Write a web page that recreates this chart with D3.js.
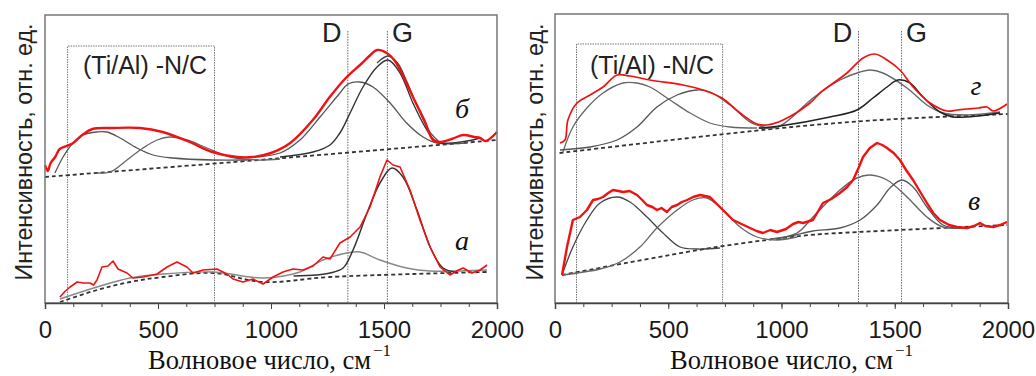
<!DOCTYPE html>
<html>
<head>
<meta charset="utf-8">
<script src="https://cdn.jsdelivr.net/npm/d3@7"></script>
<style>
  body { margin: 0; background: #fff; }
  svg { display: block; }
</style>
</head>
<body>
<svg id="chart" width="1036" height="376"></svg>
<script>
// wavenumber axis
const xMajor = [0, 500, 1000, 1500, 2000]
const xMinor = d3.range(0, 2001, 125)

// left panel, upper spectrum (б)
const bRed = [[0,138],[12,132],[25,140],[45,146],[65,154],[95,157],[125,160],[165,168],[210,174],[300,175],[420,175],[520,171],[640,161],[740,151],[850,146],[920,146],[1000,150],[1085,160],[1185,183],[1260,206],[1335,226],[1394,238],[1440,248],[1470,253],[1512,250],[1545,243],[1571,233],[1628,206],[1680,182],[1717,163],[1748,161],[1800,164],[1850,168],[1900,166],[1925,165],[1950,162],[2000,171]]
const bBase = [[0,126],[1000,144],[2000,163]]
const bPeak1 = [[44,130],[80,146],[124,160],[168,168],[230,171],[274,171],[332,165],[407,155],[478,148],[566,145],[743,143],[894,143]]
const bPeak2 = [[230,130],[288,131],[363,143],[434,155],[496,163],[553,166],[628,163],[717,155],[819,146],[938,143],[1040,144]]
const bD = [[850,145],[1040,150],[1128,163],[1217,186],[1305,210],[1341,219],[1394,221],[1451,216],[1527,200],[1600,180],[1673,166],[1735,160],[1867,160]]
const bG = [[1040,146],[1186,151],[1261,158],[1305,170],[1350,190],[1407,216],[1469,236],[1518,243],[1571,230],[1628,200],[1690,173],[1735,161],[1867,162],[1925,165]]
const bFit = [[1469,240],[1518,247],[1560,240],[1600,222],[1650,195],[1700,172],[1740,162]]

// left panel, lower spectrum (а)
const aRed = [[66,6],[90,12],[111,16],[142,21],[170,20],[199,20],[215,18],[230,23],[252,36],[279,37],[301,42],[323,34],[363,30],[389,25],[434,26],[496,29],[540,36],[584,41],[628,36],[655,30],[699,33],[761,34],[805,29],[832,24],[876,21],[920,24],[965,19],[1009,26],[1053,31],[1097,34],[1142,33],[1186,37],[1230,46],[1261,44],[1305,60],[1350,66],[1394,76],[1438,96],[1482,126],[1513,143],[1540,138],[1571,136],[1615,113],[1659,83],[1704,56],[1748,36],[1792,28],[1820,32],[1850,35],[1889,30],[1925,33],[1956,38]]
const aBase = [[66,1],[230,13],[376,21],[522,26],[743,30],[965,21],[1261,26],[1956,31]]
const aD = [[66,4],[230,16],[376,25],[522,29],[743,31],[965,25],[1128,31],[1230,43],[1336,50],[1394,51],[1482,43],[1600,35],[1704,32],[1956,33]]
const aG = [[1100,27],[1200,28],[1261,30],[1319,35],[1363,53],[1425,90],[1482,120],[1535,135],[1584,126],[1646,93],[1704,56],[1761,35],[1823,31]]

// right panel, upper spectrum (г)
const gRed = [[22,160],[44,163],[57,183],[97,200],[155,208],[212,216],[274,228],[331,227],[419,223],[565,218],[653,213],[737,205],[817,190],[892,179],[936,178],[1007,183],[1126,200],[1170,210],[1289,230],[1360,245],[1413,249],[1466,243],[1523,233],[1581,216],[1656,200],[1731,192],[1775,193],[1819,194],[1870,195],[1907,196],[1934,192],[1996,199]]
const gBase = [[20,150],[1000,175],[1435,183],[2000,189]]
const gPeak1 = [[35,151],[79,176],[141,195],[212,210],[300,220],[362,220],[419,216],[508,203],[596,190],[684,180],[773,176],[892,175]]
const gPeak2 = [[22,153],[155,156],[274,163],[362,176],[450,196],[539,208],[627,213],[684,211],[773,198],[861,181],[936,175]]
const gD = [[900,175],[993,177],[1139,205],[1258,223],[1347,231],[1391,233],[1448,230],[1554,215],[1642,198],[1713,190],[1819,188],[1965,191]]
const gG = [[900,175],[993,177],[1214,186],[1333,193],[1404,205],[1466,216],[1514,223],[1567,220],[1625,206],[1700,191],[1757,186],[1965,190]]

// right panel, lower spectrum (в)
const vRed = [[31,28],[53,56],[79,83],[110,86],[141,93],[168,103],[190,104],[212,106],[235,110],[256,113],[280,112],[300,111],[330,112],[362,108],[385,103],[406,98],[430,96],[450,93],[470,95],[494,91],[515,96],[539,98],[560,101],[583,103],[610,106],[640,108],[684,106],[728,96],[786,83],[861,75],[890,72],[918,70],[950,73],[980,71],[1020,74],[1051,79],[1075,81],[1095,80],[1139,83],[1183,100],[1220,104],[1258,110],[1290,116],[1316,123],[1340,135],[1360,146],[1390,155],[1422,160],[1445,158],[1466,155],[1495,150],[1523,143],[1550,133],[1581,123],[1610,112],[1642,100],[1670,90],[1700,83],[1740,78],[1775,76],[1819,75],[1850,77],[1876,80],[1900,77],[1934,76],[1965,78],[1996,81]]
const vBase = [[31,28],[715,56],[1126,68],[1258,70],[1996,78]]
const vPeak1 = [[31,28],[79,56],[141,83],[199,100],[274,106],[331,101],[406,86],[477,70],[552,56],[627,54],[728,55]]
const vPeak2 = [[31,28],[199,34],[287,41],[375,56],[450,75],[539,93],[609,103],[671,105],[742,93],[817,76],[892,66],[980,63],[1068,66]]
const vD = [[950,64],[1068,70],[1139,86],[1258,113],[1333,125],[1391,128],[1466,123],[1554,106],[1642,86],[1713,76],[1819,75]]
const vG = [[980,64],[1060,68],[1139,72],[1258,75],[1347,83],[1422,98],[1479,115],[1532,123],[1581,116],[1642,96],[1713,78],[1788,75]]

// D and G band positions, (Ti/Al)-N/C region
const dgLeft = [1340, 1515]
const dgRight = [1340, 1530]
const boxLeft = [100, 750]
const boxRight = [95, 740]

const RED = "#f01212"
const smooth = d3.curveCatmullRom.alpha(0.5)

const panels = [
  {
    left: 45, right: 497, top: 15, bottom: 303,
    dg: dgLeft, box: boxLeft, boxTop: 46, textX: 83, titleX: 148, yTitleX: 32,
    labels: [{ t: "б", x: 462, y: 118 }, { t: "а", x: 462, y: 250 }],
    series: [
      { d: bBase, c: "#333", w: 1.8, dash: "4,3" },
      { d: bPeak1, c: "#555", w: 1.3 },
      { d: bPeak2, c: "#666", w: 1.3 },
      { d: bD, c: "#555", w: 1.3 },
      { d: bG, c: "#333", w: 1.4 },
      { d: bFit, c: "#444", w: 1.3 },
      { d: bRed, c: RED, w: 2.4 },
      { d: aBase, c: "#333", w: 1.8, dash: "4,3" },
      { d: aD, c: "#888", w: 1.4 },
      { d: aG, c: "#333", w: 1.5 },
      { d: aRed, c: RED, w: 1.6, linear: true }
    ]
  },
  {
    left: 555, right: 1008, top: 14, bottom: 303,
    dg: dgRight, box: boxRight, boxTop: 44, textX: 590, titleX: 670, yTitleX: 543,
    labels: [{ t: "г", x: 976, y: 95 }, { t: "в", x: 974, y: 210 }],
    series: [
      { d: gBase, c: "#333", w: 1.8, dash: "4,3" },
      { d: gPeak1, c: "#666", w: 1.3 },
      { d: gPeak2, c: "#555", w: 1.3 },
      { d: gD, c: "#666", w: 1.4 },
      { d: gG, c: "#222", w: 1.5 },
      { d: gRed, c: RED, w: 1.7 },
      { d: vBase, c: "#333", w: 1.8, dash: "4,3" },
      { d: vPeak1, c: "#444", w: 1.3 },
      { d: vPeak2, c: "#666", w: 1.3 },
      { d: vD, c: "#666", w: 1.4 },
      { d: vG, c: "#555", w: 1.3 },
      { d: vRed, c: RED, w: 2.4, linear: true }
    ]
  }
]

const svg = d3.select("#chart")

function drawPanel(p) {
  const x = d3.scaleLinear().domain([0, 2000]).range([p.left, p.right])
  const y = d3.scaleLinear().domain([0, 288]).range([303, 15])
  const g = svg.append("g")

  // (Ti/Al)-N/C box
  g.append("path")
    .attr("d", `M${x(p.box[0])},${p.bottom}V${p.boxTop}H${x(p.box[1])}V${p.bottom}`)
    .attr("fill", "none")
    .attr("stroke", "#777")
    .attr("stroke-width", 1)
    .attr("stroke-dasharray", "1.5,1")

  g.append("text")
    .attr("x", p.textX)
    .attr("y", 74)
    .attr("font-family", "Liberation Sans, Arial, sans-serif")
    .attr("font-size", 25)
    .attr("fill", "#222")
    .text("(Ti/Al) -N/C")

  // D and G lines
  g.selectAll(".dg")
    .data(p.dg)
    .join("line")
    .attr("x1", (d) => x(d))
    .attr("x2", (d) => x(d))
    .attr("y1", 31)
    .attr("y2", p.bottom)
    .attr("stroke", "#666")
    .attr("stroke-width", 1)
    .attr("stroke-dasharray", "1.5,1.2")

  g.selectAll(".dglabel")
    .data(["D", "G"])
    .join("text")
    .attr("x", (d, i) => x(p.dg[i]) + (i === 0 ? -16 : 15))
    .attr("y", 42)
    .attr("text-anchor", "middle")
    .attr("font-family", "Liberation Sans, Arial, sans-serif")
    .attr("font-size", 27)
    .attr("fill", "#222")
    .text((d) => d)

  // spectra and fit components
  p.series.forEach((s) => {
    const line = d3.line()
      .x((d) => x(d[0]))
      .y((d) => y(d[1]))
      .curve(s.linear ? d3.curveLinear : smooth)
    g.append("path")
      .datum(s.d)
      .attr("d", line)
      .attr("fill", "none")
      .attr("stroke", s.c)
      .attr("stroke-width", s.w)
      .attr("stroke-linejoin", "round")
      .attr("stroke-dasharray", s.dash || null)
  })

  // frame
  g.append("rect")
    .attr("x", p.left)
    .attr("y", p.top)
    .attr("width", p.right - p.left)
    .attr("height", p.bottom - p.top)
    .attr("fill", "none")
    .attr("stroke", "#777")
    .attr("stroke-width", 1.5)

  // axis
  const minor = g.append("g")
    .attr("transform", `translate(0,${p.bottom})`)
    .call(d3.axisBottom(x).tickValues(xMinor).tickSize(4).tickFormat(""))
  minor.select(".domain").remove()
  minor.selectAll("line").attr("stroke", "#444")

  const axis = g.append("g")
    .attr("transform", `translate(0,${p.bottom})`)
    .call(d3.axisBottom(x).tickValues(xMajor).tickSize(6).tickPadding(12).tickFormat(d3.format("d")))
  axis.select(".domain").attr("stroke", "#444").attr("stroke-width", 1.5)
  axis.selectAll("line").attr("stroke", "#444")
  axis.selectAll("text")
    .attr("font-family", "Liberation Sans, Arial, sans-serif")
    .attr("font-size", 24)
    .attr("fill", "#1a1a1a")

  // x title
  g.append("text")
    .attr("x", p.titleX)
    .attr("y", 369)
    .attr("font-family", "Liberation Serif, Times New Roman, serif")
    .attr("font-size", 26.5)
    .attr("fill", "#111")
    .text("Волновое число, см")
  g.append("text")
    .attr("x", p.titleX + 225)
    .attr("y", 356)
    .attr("font-family", "Liberation Serif, Times New Roman, serif")
    .attr("font-size", 17)
    .attr("fill", "#111")
    .text("−1")

  // y title
  g.append("text")
    .attr("transform", `translate(${p.yTitleX},${152}) rotate(-90)`)
    .attr("text-anchor", "middle")
    .attr("font-family", "Liberation Sans, Arial, sans-serif")
    .attr("font-size", 23)
    .attr("textLength", 257)
    .attr("lengthAdjust", "spacingAndGlyphs")
    .attr("fill", "#222")
    .text("Интенсивность, отн.  ед.")

  // spectrum letters
  g.selectAll(".lab")
    .data(p.labels)
    .join("text")
    .attr("x", (d) => d.x)
    .attr("y", (d) => d.y)
    .attr("text-anchor", "middle")
    .attr("font-family", "Liberation Serif, Times New Roman, serif")
    .attr("font-style", "italic")
    .attr("font-size", 28)
    .attr("fill", "#111")
    .text((d) => d.t)
}

panels.forEach(drawPanel)
</script>
</body>
</html>
